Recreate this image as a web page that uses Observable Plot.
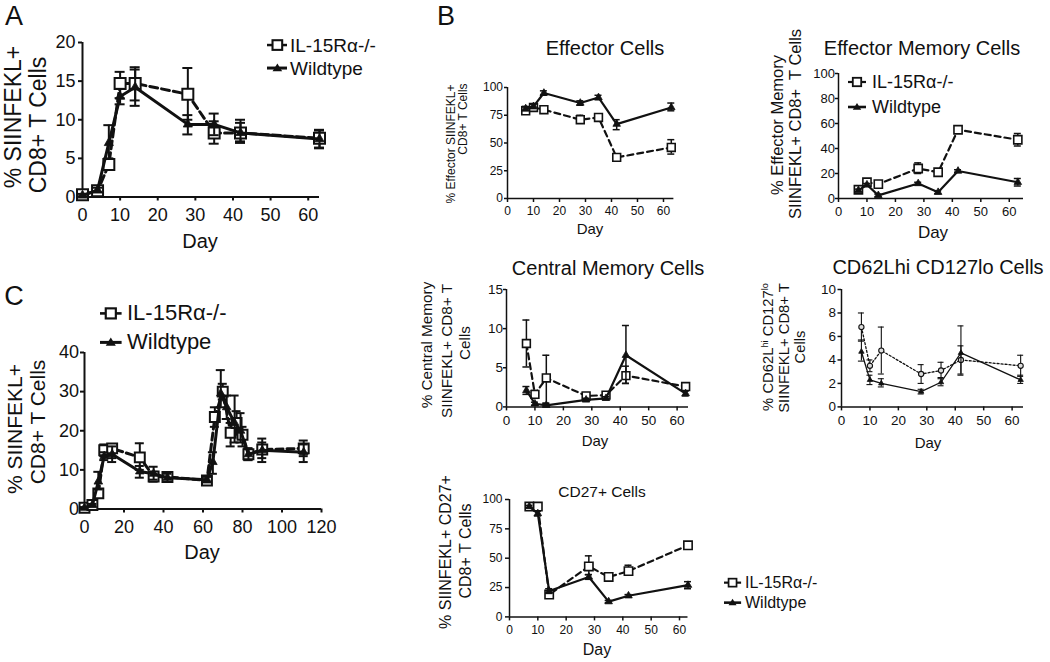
<!DOCTYPE html>
<html><head><meta charset="utf-8">
<script src="https://cdn.jsdelivr.net/npm/d3@7"></script>
<script src="https://cdn.jsdelivr.net/npm/@observablehq/plot@0.6"></script>
<style>
body{margin:0;background:#fff;}
#fig{position:relative;width:1050px;height:662px;overflow:hidden;background:#fff;font-family:"Liberation Sans",Arial,sans-serif;color:#111;}
.t{position:absolute;white-space:nowrap;line-height:1;transform:translate(-50%,-50%);}
.v{position:absolute;white-space:nowrap;line-height:1;transform:translate(-50%,-50%) rotate(-90deg);}
.lg{position:absolute;white-space:nowrap;line-height:1;transform:translateY(-50%);}
.sym{position:absolute;}
sup{font-size:62%;vertical-align:0.55em;line-height:0;}
</style></head><body><div id="fig"></div>
<script>
// ---------------- DATA ----------------
const seriesNames = ["IL-15R\u03b1-/-", "Wildtype"];
const B_xticks = [0,10,20,30,40,50,60];

// Panel A
const A_xticks = [0,10,20,30,40,50,60];
const A_yticks = [0,5,10,15,20];
const A_ko_day = [0,4,7,10,14,28,35,42,63];
const A_ko    = [0.3,0.8,4.2,14.7,14.7,13.3,8.3,8.3,7.6];
const A_ko_lo = [0.1,0.5,3.6,12.8,12.5,10.0,6.9,7.2,6.3];
const A_ko_hi = [0.5,1.1,4.8,16.2,16.5,16.7,9.8,9.6,8.7];
const A_wt_day = [0,4,7,10,14,28,35,42,63];
const A_wt    = [0.2,0.9,7.0,13.0,14.2,9.4,9.4,8.3,7.5];
const A_wt_lo = [0.1,0.6,5.0,12.0,11.8,8.1,8.0,7.0,6.4];
const A_wt_hi = [0.4,1.2,9.3,14.0,16.8,10.6,10.8,10.0,8.6];

// Panel B - Effector Cells
const E_yticks = [0,25,50,75,100];
const E_ko_day = [7,10,14,28,35,42,63];
const E_ko    = [79,82,80,71,73,37,46];
const E_ko_lo = [77,80,77,68,71,35,40];
const E_ko_hi = [81,84,83,75,75,39,53];
const E_wt_day = [7,10,14,28,35,42,63];
const E_wt    = [81,83,95,86,91,67,82];
const E_wt_lo = [79,81,93,84,89,62,79];
const E_wt_hi = [83,85,97,88,93,71,86];

// Panel B - Effector Memory Cells
const EM_yticks = [0,20,40,60,80,100];
const EM_ko_day = [7,10,14,28,35,42,63];
const EM_ko    = [7,13,11.5,24,21,55,47];
const EM_ko_lo = [5,11,9.5,20,19,53,42];
const EM_ko_hi = [9,15,13.5,28.5,23,57,52];
const EM_wt_day = [7,10,14,28,35,42,63];
const EM_wt    = [6.5,11,2.5,12,5,22,13];
const EM_wt_lo = [5.5,10,1.5,11,4,21,10];
const EM_wt_hi = [7.5,12,3.5,13,6,23,16];

// Panel B - Central Memory Cells
const CM_yticks = [0,5,10,15];
const CM_ko_day = [7,10,14,28,35,42,63];
const CM_ko    = [8.1,1.6,3.7,1.4,1.5,4.0,2.6];
const CM_ko_lo = [5.1,1.1,0.5,1.1,1.2,3.0,2.2];
const CM_ko_hi = [11.1,2.1,6.6,1.7,1.8,5.2,3.0];
const CM_wt_day = [7,10,14,28,35,42,63];
const CM_wt    = [2.1,0.4,0.2,0.9,1.1,6.6,1.7];
const CM_wt_lo = [1.6,0.2,0.05,0.7,0.9,3.0,1.4];
const CM_wt_hi = [2.6,0.6,0.4,1.1,1.3,10.4,2.0];

// Panel B - CD62Lhi CD127lo Cells
const LO_yticks = [0,2,4,6,8,10];
const LO_ko_day = [7,10,14,28,35,42,63];
const LO_ko    = [6.8,3.5,4.8,2.8,3.1,4.0,3.5];
const LO_ko_lo = [5.6,3.0,2.8,2.0,2.4,2.8,2.6];
const LO_ko_hi = [8.0,4.0,6.8,3.6,3.8,5.2,4.4];
const LO_wt_day = [7,10,14,28,35,42,63];
const LO_wt    = [4.7,2.3,2.0,1.3,2.1,4.6,2.3];
const LO_wt_lo = [3.9,1.9,1.7,1.1,1.8,2.7,2.0];
const LO_wt_hi = [5.7,2.7,2.4,1.5,2.5,6.9,2.7];

// Panel B - CD27+ Cells
const D27_yticks = [0,25,50,75,100];
const D27_ko_day = [7,10,14,28,35,42,63];
const D27_ko    = [94,94,19,43,34,39,61];
const D27_ko_lo = [93,93,17,36,33,37,60];
const D27_ko_hi = [95,95,21,52,35,44,62];
const D27_wt_day = [7,10,14,28,35,42,63];
const D27_wt    = [94,88,22,34,13,18,27];
const D27_wt_lo = [93,86,20,32,12,17,24];
const D27_wt_hi = [95,90,24,36,14,19,30];

// Panel C
const C_xticks = [0,20,40,60,80,100,120];
const C_yticks = [0,10,20,30,40];
const C_ko_day = [0,4,7,10,14,28,35,42,62,66,70,74,77,80,83,90,111];
const C_ko    = [0.3,1,4,15,15.5,13.2,8.3,8.2,7.3,23.5,30,19.5,22,19,14,15.2,15.5];
const C_ko_lo = [0,0.7,3,13.5,13,10,7,7.2,6.5,21,28,16,19,16,12.5,13,13.5];
const C_ko_hi = [0.6,1.3,5,16.5,16.5,16.8,9.5,9.2,8,26,32,22,25,21,15.5,17,17.5];
const C_wt_day = [0,4,7,10,14,28,35,42,62,65,69,72,76,79,83,90,111];
const C_wt    = [0.3,1,7,13.5,14,9.6,9,8,7.5,12,29.5,26,22,20,14,15,14.5];
const C_wt_lo = [0.1,0.7,5,12.5,12,8,7.5,7,6.8,9,26,23,17,17,12.5,12,12];
const C_wt_hi = [0.5,1.3,9.5,14.5,16,11,10.8,9,8.2,14.5,35.5,29,29,24.5,15.5,18,16.5];

// ---------------- DRAWING ----------------
const FONT = '"Liberation Sans", Arial, sans-serif';
const fig = document.getElementById("fig");
const INK = "#111";

function recs(day, v, lo, hi){ return day.map((d,i)=>({day:d, v:v[i], lo:lo[i], hi:hi[i]})); }

function panel(cfg){
  const ml=50, mr=14, mt=14, mb=40;
  const W = ml + (cfg.x1 - cfg.x0) + mr;
  const H = mt + (cfg.yb - cfg.yt) + mb;
  const ko = recs(...cfg.ko), wt = recs(...cfg.wt);
  const st = {stroke: INK};
  const errMarks = (data) => [
    Plot.ruleX(data, {x:"day", y1:"lo", y2:"hi", ...st, strokeWidth: cfg.ew}),
    Plot.ruleY(data, {y:"hi", x1:"day", x2:"day", insetLeft:-cfg.cap, insetRight:-cfg.cap, ...st, strokeWidth: cfg.ew}),
    Plot.ruleY(data, {y:"lo", x1:"day", x2:"day", insetLeft:-cfg.cap, insetRight:-cfg.cap, ...st, strokeWidth: cfg.ew})
  ];
  const plot = Plot.plot({
    width: W, height: H, marginLeft: ml, marginRight: mr, marginTop: mt, marginBottom: mb,
    x: {domain: cfg.xDom, label: null},
    y: {domain: cfg.yDom, label: null},
    style: {fontFamily: FONT, fontSize: cfg.font + "px", color: INK, background: "transparent", overflow: "visible"},
    marks: [
      Plot.axisX(cfg.xTicks, {tickSize: 4, tickPadding: cfg.padX, label: null, fontSize: cfg.font, strokeWidth: cfg.aw}),
      Plot.axisY(cfg.yTicks, {tickSize: cfg.tsY || 4, tickPadding: cfg.padY, label: null, fontSize: cfg.font, strokeWidth: cfg.aw}),
      Plot.ruleY([cfg.yDom[0]], {stroke: INK, strokeWidth: cfg.aw}),
      Plot.ruleX([cfg.xDom[0]], {stroke: INK, strokeWidth: cfg.aw}),
      ...errMarks(ko),
      Plot.line(ko, {x:"day", y:"v", ...st, strokeWidth: cfg.lw, strokeDasharray: cfg.dash}),
      Plot.dot(ko, {x:"day", y:"v", symbol: cfg.koSym || "square", r: cfg.sq, fill: cfg.koFill || "white", stroke: INK, strokeWidth: cfg.sqw}),
      ...errMarks(wt),
      Plot.line(wt, {x:"day", y:"v", ...st, strokeWidth: cfg.lw}),
      Plot.dot(wt, {x:"day", y:"v", symbol: "triangle", r: cfg.tri, fill: INK, stroke: INK, strokeWidth: 0.8})
    ]
  });
  plot.style.position = "absolute";
  plot.style.left = (cfg.x0 - ml) + "px";
  plot.style.top = (cfg.yt - mt) + "px";
  fig.appendChild(plot);
}

function text(cls, html, x, y, size, extra){
  const d = document.createElement("div");
  d.className = cls;
  d.innerHTML = html;
  d.style.left = x + "px"; d.style.top = y + "px"; d.style.fontSize = size + "px";
  if (extra) Object.assign(d.style, extra);
  fig.appendChild(d);
}

function legendItem(cx, cy, tx, size, label, kind, s, lw){
  const L = 9*s, h = 14*s;
  const ns = "http://www.w3.org/2000/svg";
  const svg = document.createElementNS(ns, "svg");
  svg.setAttribute("width", 2*L); svg.setAttribute("height", h);
  svg.setAttribute("class", "sym");
  svg.style.left = (cx - L) + "px"; svg.style.top = (cy - h/2) + "px";
  const line = document.createElementNS(ns, "line");
  line.setAttribute("x1", 0); line.setAttribute("x2", 2*L);
  line.setAttribute("y1", h/2); line.setAttribute("y2", h/2);
  line.setAttribute("stroke", INK); line.setAttribute("stroke-width", lw);
  svg.appendChild(line);
  if (kind === "square") {
    const a = 4.2*s;
    const r = document.createElementNS(ns, "rect");
    r.setAttribute("x", L - a); r.setAttribute("y", h/2 - a);
    r.setAttribute("width", 2*a); r.setAttribute("height", 2*a);
    r.setAttribute("fill", "white"); r.setAttribute("stroke", INK); r.setAttribute("stroke-width", 1.8*s);
    svg.appendChild(r);
  } else {
    const a = 4*s;
    const p = document.createElementNS(ns, "path");
    p.setAttribute("d", `M${L},${h/2 - a}L${L + a*1.05},${h/2 + a*0.7}L${L - a*1.05},${h/2 + a*0.7}Z`);
    p.setAttribute("fill", INK);
    svg.appendChild(p);
  }
  fig.appendChild(svg);
  text("lg", label, tx, cy, size);
}

// ---- Panel A ----
panel({ko:[A_ko_day,A_ko,A_ko_lo,A_ko_hi], wt:[A_wt_day,A_wt,A_wt_lo,A_wt_hi],
  xDom:[0,63], yDom:[0,20], xTicks:A_xticks, yTicks:A_yticks,
  x0:81.5, x1:318.5, yb:196.5, yt:42,
  font:18, padX:7, padY:3, aw:2, lw:3, ew:2, cap:5, dash:"8,4", sq:6.2, sqw:2, tri:3.4});
text("t","A",14,16,27);
text("v","% SIINFEKL+",13,117,23);
text("v","CD8+ T Cells",38,125,23);
text("t","Day",200,241,20);
legendItem(277,45,290,19,seriesNames[0],"square",1.15,2.5);
legendItem(277,68,290,19,seriesNames[1],"tri",1.15,3);

// ---- Panel B: Effector Cells ----
panel({ko:[E_ko_day,E_ko,E_ko_lo,E_ko_hi], wt:[E_wt_day,E_wt,E_wt_lo,E_wt_hi],
  xDom:[0,64], yDom:[0,100], xTicks:B_xticks, yTicks:E_yticks,
  x0:506.5, x1:672.9, yb:197.7, yt:86.7,
  font:12, padX:4, padY:1.5, tsY:3, aw:1.5, lw:2.2, ew:1.5, cap:3.5, dash:"6,4", sq:4.4, sqw:1.6, tri:2.8});
text("t","B",446,16,27);
text("t","Effector Cells",605,48,20);
text("v","% Effector SIINFEKL+",451,144,12);
text("v","CD8+ T Cells",463,119,12);
text("t","Day",590,228,15);

// ---- Panel B: Effector Memory ----
panel({ko:[EM_ko_day,EM_ko,EM_ko_lo,EM_ko_hi], wt:[EM_wt_day,EM_wt,EM_wt_lo,EM_wt_hi],
  xDom:[0,65], yDom:[0,100], xTicks:B_xticks, yTicks:EM_yticks,
  x0:838, x1:1023, yb:198.3, yt:73.3,
  font:13, padX:4.5, padY:0.5, tsY:3, aw:1.5, lw:2.2, ew:1.5, cap:3.5, dash:"6,4", sq:4.6, sqw:1.6, tri:2.8});
text("t","Effector Memory Cells",922,48,20);
text("v","% Effector Memory",777,125,16.5);
text("v","SIINFEKL+ CD8+&nbsp; T Cells",795,124,16.5);
text("t","Day",933,232,17);
legendItem(857,82,872,18,seriesNames[0],"square",1.0,2.2);
legendItem(857,107,872,18,seriesNames[1],"tri",1.0,2.6);

// ---- Panel B: Central Memory ----
panel({ko:[CM_ko_day,CM_ko,CM_ko_lo,CM_ko_hi], wt:[CM_wt_day,CM_wt,CM_wt_lo,CM_wt_hi],
  xDom:[0,64], yDom:[0,15], xTicks:B_xticks, yTicks:CM_yticks,
  x0:506, x1:688, yb:406.7, yt:289.3,
  font:13.5, padX:4.5, padY:0.5, tsY:3, aw:1.5, lw:2.2, ew:1.5, cap:3.5, dash:"6,4", sq:4.4, sqw:1.6, tri:2.8});
text("t","Central Memory Cells",608,268,20);
text("v","% Central Memory",427,345,15.3);
text("v","SIINFEKL+ CD8+ T",446.5,351,15.3);
text("v","Cells",465,343,15.3);
text("t","Day",595,440,15);

// ---- Panel B: CD62Lhi CD127lo ----
panel({ko:[LO_ko_day,LO_ko,LO_ko_lo,LO_ko_hi], wt:[LO_wt_day,LO_wt,LO_wt_lo,LO_wt_hi],
  xDom:[0,64], yDom:[0,10], xTicks:B_xticks, yTicks:LO_yticks,
  x0:841, x1:1023, yb:406.7, yt:289.3,
  font:13.5, padX:4.5, padY:2, tsY:3.5, aw:1.5, lw:1.3, ew:1.1, cap:3, dash:"2,2", sq:2.6, sqw:1.1, tri:2.0,
  koSym:"circle", koFill:"#ddd"});
text("t","CD62Lhi CD127lo Cells",938,267,20);
text("v","% CD62L<sup>hi</sup> CD127<sup>lo</sup>",768,347,14.8);
text("v","SIINFEKL+ CD8+ T",784,348,14.8);
text("v","Cells",800,347,14.8);
text("t","Day",928,442,15);

// ---- Panel B: CD27+ ----
panel({ko:[D27_ko_day,D27_ko,D27_ko_lo,D27_ko_hi], wt:[D27_wt_day,D27_wt,D27_wt_lo,D27_wt_hi],
  xDom:[0,63], yDom:[0,100], xTicks:B_xticks, yTicks:D27_yticks,
  x0:508.5, x1:687, yb:616.7, yt:499.3,
  font:12, padX:5, padY:3, tsY:4, aw:1.5, lw:2.2, ew:1.5, cap:3.5, dash:"6,4", sq:4.7, sqw:1.6, tri:2.8});
text("t","CD27+ Cells",602,492,15.5);
text("v","% SIINFEKL+ CD27+",446,552,16);
text("v","CD8+ T Cells",466,551,16);
text("t","Day",597,650,16);
legendItem(733,583,745,16,seriesNames[0],"square",0.95,2.2);
legendItem(733,603,745,16,seriesNames[1],"tri",0.95,2.6);

// ---- Panel C ----
panel({ko:[C_ko_day,C_ko,C_ko_lo,C_ko_hi], wt:[C_wt_day,C_wt,C_wt_lo,C_wt_hi],
  xDom:[0,120], yDom:[0,40], xTicks:C_xticks, yTicks:C_yticks,
  x0:84, x1:321, yb:508, yt:351.5,
  font:18, padX:7, padY:1.5, aw:2, lw:3, ew:2, cap:4.5, dash:"7,4", sq:5.6, sqw:2, tri:3.2});
text("t","C",14,296,27);
text("v","% SIINFEKL+",13.5,429,21);
text("v","CD8+ T Cells",37,422,21);
text("t","Day",202,552,20);
legendItem(111,313,127,22,seriesNames[0],"square",1.2,2.6);
legendItem(111,342,127,22,seriesNames[1],"tri",1.2,3);
</script>
</body></html>
